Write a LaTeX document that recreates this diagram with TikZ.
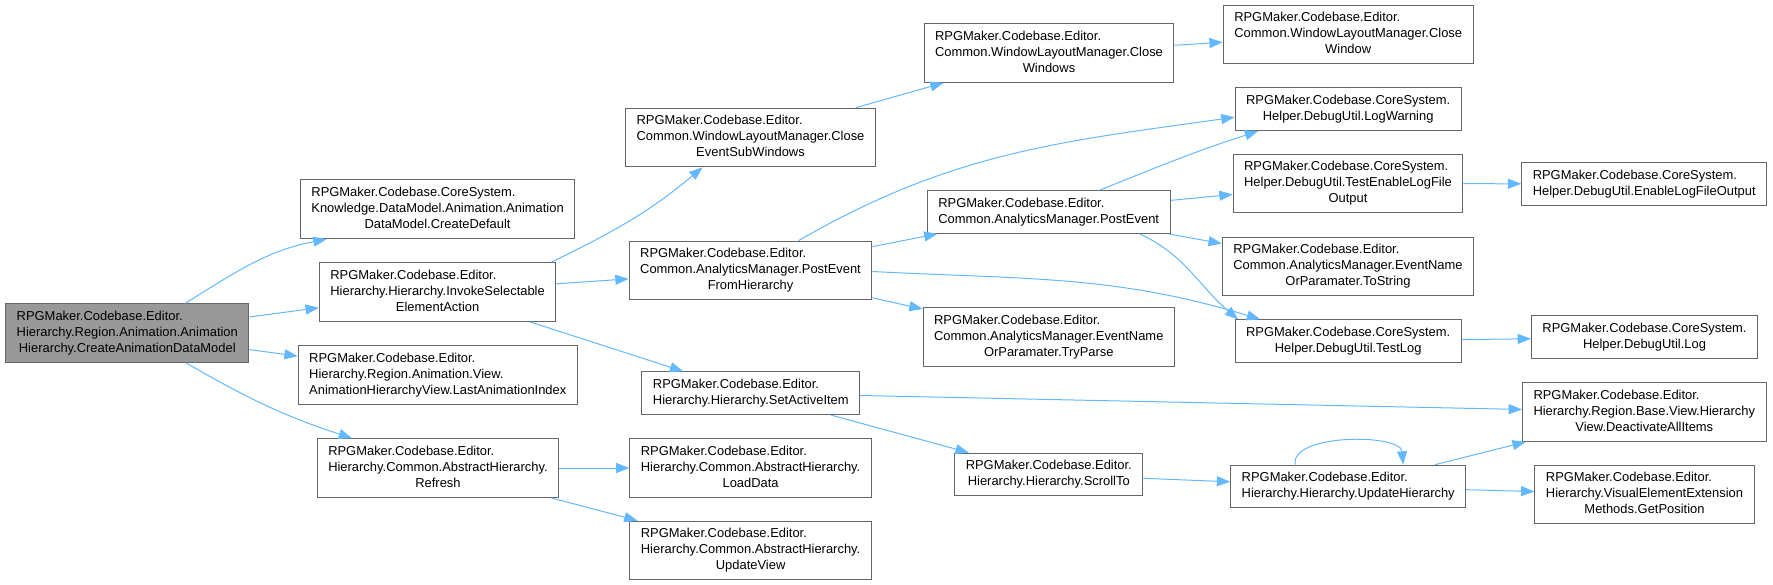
\documentclass[tikz,border=0pt]{standalone}
\usepackage{fontspec}
\setmainfont{Liberation Sans}
\usetikzlibrary{arrows.meta, calc}
\usepackage{xcolor}

\definecolor{edgeblue}{HTML}{63B8FF}
\definecolor{boxgray}{HTML}{666666}
\definecolor{rootgray}{HTML}{999999}

% label: leading lines flush left, last line centred
\newcommand{\fnlabel}[2]{\begin{tabular}{@{}l@{}}#1\\\multicolumn{1}{@{}c@{}}{#2}\end{tabular}}

\begin{document}
\begin{tikzpicture}[
    x=0.75pt, y=0.75pt,
    fn/.style={draw=boxgray, fill=white, line width=0.75pt, inner xsep=8.25pt, inner ysep=4pt,
               font=\fontsize{9.7}{12}\selectfont},
    rootfn/.style={fn, fill=rootgray},
    call/.style={-{Triangle[length=10pt, width=7.5pt]}, draw=edgeblue, line width=0.75pt}
]
    \useasboundingbox (0,0) rectangle (1773,-585);

    \node[rootfn] (root) at (127.3,-333.2) {\fnlabel{RPGMaker.Codebase.Editor.\\Hierarchy.Region.Animation.Animation}{Hierarchy.CreateAnimationDataModel}};

    \node[fn] (dflt) at (437.6,-209.3) {\fnlabel{RPGMaker.Codebase.CoreSystem.\\Knowledge.DataModel.Animation.Animation}{DataModel.CreateDefault}};
    \node[fn] (invoke) at (437.6,-292) {\fnlabel{RPGMaker.Codebase.Editor.\\Hierarchy.Hierarchy.InvokeSelectable}{ElementAction}};
    \node[fn] (lastidx) at (437.8,-374.9) {\fnlabel{RPGMaker.Codebase.Editor.\\Hierarchy.Region.Animation.View.}{AnimationHierarchyView.LastAnimationIndex}};
    \node[fn] (refresh) at (438,-468) {\fnlabel{RPGMaker.Codebase.Editor.\\Hierarchy.Common.AbstractHierarchy.}{Refresh}};

    \node[fn] (closesub) at (750.5,-137.5) {\fnlabel{RPGMaker.Codebase.Editor.\\Common.WindowLayoutManager.Close}{EventSubWindows}};
    \node[fn] (postfrom) at (750.5,-270.5) {\fnlabel{RPGMaker.Codebase.Editor.\\Common.AnalyticsManager.PostEvent}{FromHierarchy}};
    \node[fn] (setactive) at (750.8,-393.2) {\fnlabel{RPGMaker.Codebase.Editor.}{Hierarchy.Hierarchy.SetActiveItem}};
    \node[fn] (loaddata) at (750.6,-468) {\fnlabel{RPGMaker.Codebase.Editor.\\Hierarchy.Common.AbstractHierarchy.}{LoadData}};
    \node[fn] (updview) at (750.6,-550.5) {\fnlabel{RPGMaker.Codebase.Editor.\\Hierarchy.Common.AbstractHierarchy.}{UpdateView}};

    \node[fn] (closewins) at (1049,-53) {\fnlabel{RPGMaker.Codebase.Editor.\\Common.WindowLayoutManager.Close}{Windows}};
    \node[fn] (postevent) at (1048.7,-212) {\fnlabel{RPGMaker.Codebase.Editor.}{Common.AnalyticsManager.PostEvent}};
    \node[fn] (tryparse) at (1048.8,-337.2) {\fnlabel{RPGMaker.Codebase.Editor.\\Common.AnalyticsManager.EventName}{OrParamater.TryParse}};
    \node[fn] (scrollto) at (1048.8,-474.5) {\fnlabel{RPGMaker.Codebase.Editor.}{Hierarchy.Hierarchy.ScrollTo}};

    \node[fn] (closewin) at (1348.2,-34.5) {\fnlabel{RPGMaker.Codebase.Editor.\\Common.WindowLayoutManager.Close}{Window}};
    \node[fn] (logwarn) at (1348.2,-109.2) {\fnlabel{RPGMaker.Codebase.CoreSystem.}{Helper.DebugUtil.LogWarning}};
    \node[fn] (testenable) at (1348,-183.5) {\fnlabel{RPGMaker.Codebase.CoreSystem.\\Helper.DebugUtil.TestEnableLogFile}{Output}};
    \node[fn] (tostring) at (1348,-266.5) {\fnlabel{RPGMaker.Codebase.Editor.\\Common.AnalyticsManager.EventName}{OrParamater.ToString}};
    \node[fn] (testlog) at (1348.2,-341.2) {\fnlabel{RPGMaker.Codebase.CoreSystem.}{Helper.DebugUtil.TestLog}};
    \node[fn] (updhier) at (1348.2,-486.5) {\fnlabel{RPGMaker.Codebase.Editor.}{Hierarchy.Hierarchy.UpdateHierarchy}};

    \node[fn] (enablelog) at (1644.2,-184) {\fnlabel{RPGMaker.Codebase.CoreSystem.}{Helper.DebugUtil.EnableLogFileOutput}};
    \node[fn] (log) at (1644.5,-337.2) {\fnlabel{RPGMaker.Codebase.CoreSystem.}{Helper.DebugUtil.Log}};
    \node[fn] (deact) at (1644.3,-412) {\fnlabel{RPGMaker.Codebase.Editor.\\Hierarchy.Region.Base.View.Hierarchy}{View.DeactivateAllItems}};
    \node[fn] (getpos) at (1644.5,-494.5) {\fnlabel{RPGMaker.Codebase.Editor.\\Hierarchy.VisualElementExtension}{Methods.GetPosition}};

    % calls
    \draw[call] ($(root.north)+(58,0)$) to[out=32, in=191] ($(dflt.south)+(-111,0)$);
    \draw[call] (root) -- (invoke);
    \draw[call] (root) -- (lastidx);
    \draw[call] ($(root.south)+(59,0)$) to[out=-30, in=162] ($(refresh.north)+(-86,0)$);

    \draw[call] ($(invoke.north east)+(-5,0)$) to[out=26, in=220] ($(closesub.south)+(-48,0)$);
    \draw[call] (invoke) -- (postfrom);
    \draw[call] (invoke) -- (setactive);
    \draw[call] (refresh) -- (loaddata);
    \draw[call] (refresh) -- (updview);

    \draw[call] (closesub) -- (closewins);
    \draw[call] (closewins) -- (closewin);

    \draw[call] ($(postfrom.north)+(48,0)$) to[out=30, in=188] ($(logwarn.west)+(0,-8)$);
    \draw[call] (postfrom) -- (postevent);
    \draw[call] (postfrom) -- (tryparse);
    \draw[call] ($(postfrom.east)+(0,-1)$) to[out=-3, in=163] ($(testlog.north)+(-88,0)$);

    \draw[call] ($(postevent.north)+(51,0)$) to[out=22, in=198] ($(logwarn.south)+(-90,0)$);
    \draw[call] (postevent) -- (testenable);
    \draw[call] (postevent) -- (tostring);
    \draw[call] ($(postevent.south)+(91,0)$) to[out=-25, in=140] ($(testlog.north)+(-110,0)$);

    \draw[call] (testenable) -- (enablelog);
    \draw[call] (testlog) -- (log);

    \draw[call] (setactive) -- (deact);
    \draw[call] (setactive) -- (scrollto);
    \draw[call] (scrollto) -- (updhier);

    \draw[call] ($(updhier.north)+(-53,0)$) to[out=100, in=95, looseness=0.75] ($(updhier.north)+(55,0)$);
    \draw[call] (updhier) -- (deact);
    \draw[call] (updhier) -- (getpos);
\end{tikzpicture}
\end{document}
